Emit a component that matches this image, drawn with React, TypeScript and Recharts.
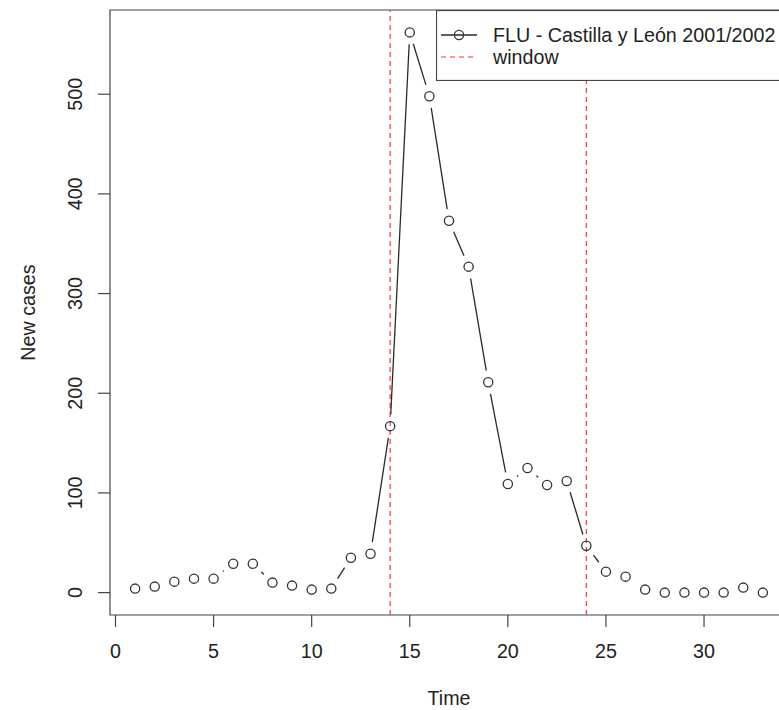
import { LineChart, Line, XAxis, YAxis, ReferenceLine, ReferenceArea, Legend } from 'recharts';

// weekly flu counts
const TIME = [
  1, 2, 3, 4, 5, 6, 7, 8, 9, 10, 11, 12, 13, 14, 15, 16, 17,
  18, 19, 20, 21, 22, 23, 24, 25, 26, 27, 28, 29, 30, 31, 32, 33,
];
const NEW_CASES = [
  4, 6, 11, 14, 14, 29, 29, 10, 7, 3, 4, 35, 39, 167, 562, 498, 373,
  327, 211, 109, 125, 108, 112, 47, 21, 16, 3, 0, 0, 0, 0, 5, 0,
];
const WINDOW = [14, 24];
const X_TICKS = [0, 5, 10, 15, 20, 25, 30];
const Y_TICKS = [0, 100, 200, 300, 400, 500];
const SERIES_NAME = 'FLU - Castilla y León 2001/2002';
const WINDOW_NAME = 'window';

const FONT = '"Liberation Sans", Arial, sans-serif';
const FONT_SIZE = 19.7;
const INK = '#222';
const AXIS = '#444';
const RED = '#ff3030';

// R pads each axis range by 4%
const pad = (lo: number, hi: number): [number, number] => {
  const d = (hi - lo) * 0.04;
  return [lo - d, hi + d];
};
const X_DOMAIN = pad(Math.min(...TIME), Math.max(...TIME));
const Y_DOMAIN = pad(Math.min(...NEW_CASES), Math.max(...NEW_CASES));

const data = TIME.map((t, i) => ({ time: t, cases: NEW_CASES[i] }));

// type = "b": the segments stop short of each point
const GAP = 11.8;
let prev: { x: number; y: number } | null = null;

function TypeBDot(props: any) {
  const { cx, cy, index } = props;
  if (index === 0) prev = null;
  let seg = null;
  if (prev) {
    const dx = cx - prev.x;
    const dy = cy - prev.y;
    const d = Math.hypot(dx, dy);
    if (d > 2 * GAP) {
      const ux = dx / d;
      const uy = dy / d;
      seg = (
        <line
          x1={prev.x + ux * GAP}
          y1={prev.y + uy * GAP}
          x2={cx - ux * GAP}
          y2={cy - uy * GAP}
          stroke="#2a2a2a"
          strokeWidth={1.3}
        />
      );
    }
  }
  prev = { x: cx, y: cy };
  return (
    <g key={`dot-${index}`}>
      {seg}
      <circle cx={cx} cy={cy} r={4.6} fill="none" stroke="#333" strokeWidth={1.3} />
    </g>
  );
}

function XTick(props: any) {
  const { x, y, payload } = props;
  return (
    <text x={x} y={y + 24} dy="0.35em" textAnchor="middle" fill={INK} fontSize={FONT_SIZE} fontFamily={FONT}>
      {payload.value}
    </text>
  );
}

function YTick(props: any) {
  const { x, y, payload } = props;
  const tx = x - 23;
  return (
    <text
      x={tx}
      y={y}
      dy="0.35em"
      textAnchor="middle"
      transform={`rotate(-90, ${tx}, ${y})`}
      fill={INK}
      fontSize={FONT_SIZE}
      fontFamily={FONT}
    >
      {payload.value}
    </text>
  );
}

function XTitle(props: any) {
  const vb = props.viewBox;
  return (
    <text
      x={vb.x + vb.width / 2}
      y={vb.y + 83}
      dy="0.35em"
      textAnchor="middle"
      fill={INK}
      fontSize={FONT_SIZE}
      fontFamily={FONT}
    >
      Time
    </text>
  );
}

function YTitle(props: any) {
  const vb = props.viewBox;
  const tx = 28;
  const ty = vb.y + vb.height / 2;
  return (
    <text
      x={tx}
      y={ty}
      dy="0.35em"
      textAnchor="middle"
      transform={`rotate(-90, ${tx}, ${ty})`}
      fill={INK}
      fontSize={FONT_SIZE}
      fontFamily={FONT}
    >
      New cases
    </text>
  );
}

function LegendBox() {
  return (
    <svg width={360} height={71} style={{ display: 'block' }}>
      <rect x={0.5} y={0.5} width={370} height={70} fill="#fff" stroke={AXIS} strokeWidth={1.2} />
      <line x1={5} y1={25} x2={41} y2={25} stroke="#2a2a2a" strokeWidth={1.3} />
      <circle cx={23} cy={25} r={4.6} fill="none" stroke="#333" strokeWidth={1.3} />
      <line x1={5} y1={47} x2={41} y2={47} stroke={RED} strokeWidth={1.2} strokeDasharray="5 4" />
      <text x={57} y={25} dy="0.35em" fill={INK} fontSize={FONT_SIZE} fontFamily={FONT}>
        {SERIES_NAME}
      </text>
      <text x={57} y={47} dy="0.35em" fill={INK} fontSize={FONT_SIZE} fontFamily={FONT}>
        {WINDOW_NAME}
      </text>
    </svg>
  );
}

export default function App() {
  return (
    <div
      style={{
        position: 'absolute',
        left: 0,
        top: 0,
        width: 779,
        height: 710,
        overflow: 'hidden',
        background: '#fff',
      }}
    >
      <LineChart width={800} height={710} data={data} margin={{ top: 10, right: 12, bottom: 0, left: 0 }}>
        <XAxis
          dataKey="time"
          type="number"
          domain={X_DOMAIN}
          ticks={X_TICKS}
          allowDataOverflow
          height={95}
          axisLine={false}
          tickLine={{ stroke: AXIS, strokeWidth: 1.2 }}
          tickSize={12}
          tickMargin={0}
          tick={<XTick />}
          label={<XTitle />}
        />
        <YAxis
          type="number"
          domain={Y_DOMAIN}
          ticks={Y_TICKS}
          allowDataOverflow
          width={110}
          axisLine={false}
          tickLine={{ stroke: AXIS, strokeWidth: 1.2 }}
          tickSize={12}
          tickMargin={0}
          tick={<YTick />}
          label={<YTitle />}
        />
        <ReferenceArea
          x1={X_DOMAIN[0]}
          x2={X_DOMAIN[1]}
          y1={Y_DOMAIN[0]}
          y2={Y_DOMAIN[1]}
          fill="none"
          stroke={AXIS}
          strokeWidth={1.2}
          ifOverflow="visible"
        />
        {WINDOW.map((w) => (
          <ReferenceLine key={w} x={w} stroke={RED} strokeWidth={1.2} strokeDasharray="5 4" />
        ))}
        <Line
          dataKey="cases"
          stroke="none"
          dot={TypeBDot}
          activeDot={false}
          isAnimationActive={false}
        />
        <Legend
          layout="horizontal"
          verticalAlign="middle"
          align="center"
          content={() => <LegendBox />}
          wrapperStyle={{ left: 436, top: 10, width: 360, height: 71 }}
        />
      </LineChart>
    </div>
  );
}
